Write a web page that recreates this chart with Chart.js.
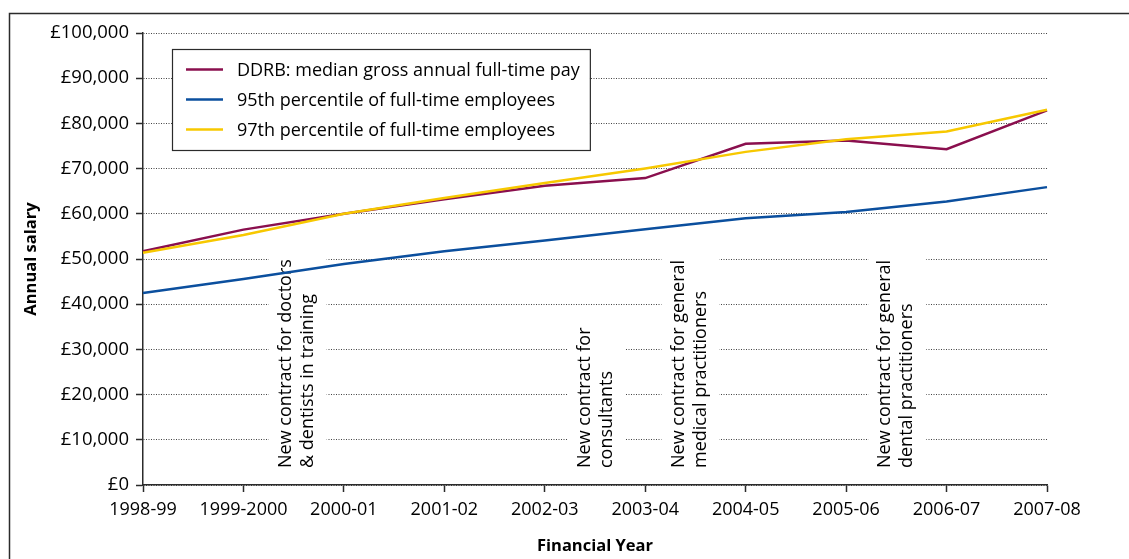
<!DOCTYPE html>
<html>
<head>
<meta charset="utf-8">
<script src="https://cdn.jsdelivr.net/npm/chart.js@4.4.1/dist/chart.umd.min.js"></script>
<style>
  html, body { margin: 0; padding: 0; background: #fff; }
  #wrap { width: 1129px; height: 559px; }
</style>
</head>
<body>
<div id="wrap"><canvas id="salaryChart" width="1129" height="559"></canvas></div>
<script>
// financial years on the x axis
const years = ["1998-99", "1999-2000", "2000-01", "2001-02", "2002-03", "2003-04", "2004-05", "2005-06", "2006-07", "2007-08"];

// annual salary, £
const ddrbMedian = [51700, 56500, 60000, 63200, 66200, 67900, 75500, 76200, 74300, 82900];
const pct95 = [42500, 45600, 48900, 51700, 54100, 56600, 59000, 60400, 62700, 65900];
const pct97 = [51400, 55300, 60000, 63500, 66800, 70000, 73700, 76500, 78200, 83000];

const seriesLabels = [
  "DDRB: median gross annual full-time pay",
  "95th percentile of full-time employees",
  "97th percentile of full-time employees",
];

// contract changes, one entry per note (lines of text)
const contractNotes = [
  ["New contract for doctors", "& dentists in training"],
  ["New contract for", "consultants"],
  ["New contract for general", "medical practitioners"],
  ["New contract for general", "dental practitioners"],
];
// where each note sits, as a category position
const notePositions = [1.54, 4.52, 5.45, 7.51];

const FONT = "'Open Sans', 'DejaVu Sans', sans-serif";
const INK = "#2b2b2b";

// white boxes with vertical text for the contract notes, under the lines
const notesPlugin = {
  id: "contractNotes",
  beforeDatasetsDraw(chart) {
    const { ctx, chartArea, scales } = chart;
    const lineH = 22;
    const baseY = chartArea.bottom - 17;
    ctx.save();
    ctx.font = "18px " + FONT;
    contractNotes.forEach((lines, i) => {
      const cx = scales.x.getPixelForValue(notePositions[i]);
      const w = Math.max(...lines.map((t) => ctx.measureText(t).width));
      const boxW = 58;
      const left = cx - boxW / 2;
      ctx.fillStyle = "#fff";
      ctx.fillRect(left, baseY - w - 9, boxW, w + 19);

      ctx.save();
      ctx.translate(left + 8, baseY);
      ctx.rotate(-Math.PI / 2);
      ctx.fillStyle = "#000";
      ctx.textAlign = "left";
      ctx.textBaseline = "top";
      lines.forEach((t, j) => ctx.fillText(t, 0, j * lineH));
      ctx.restore();
    });
    ctx.restore();
  },
};

// boxed legend in the top-left of the plot
const legendPlugin = {
  id: "boxLegend",
  afterDatasetsDraw(chart) {
    const { ctx, chartArea } = chart;
    const x0 = chartArea.left + 29;
    const y0 = chartArea.top + 16;
    ctx.save();
    ctx.font = "18px " + FONT;
    const tw = Math.max(...chart.data.datasets.map((d) => ctx.measureText(d.label).width));
    const w = 65 + tw + 10;
    const h = 101;
    ctx.fillStyle = "#fff";
    ctx.fillRect(x0, y0, w, h);
    ctx.strokeStyle = INK;
    ctx.lineWidth = 1.2;
    ctx.strokeRect(x0 + 0.5, y0 + 0.5, w, h);

    chart.data.datasets.forEach((d, i) => {
      const y = y0 + 20.5 + i * 30;
      ctx.strokeStyle = d.borderColor;
      ctx.lineWidth = 2.5;
      ctx.beginPath();
      ctx.moveTo(x0 + 14, y);
      ctx.lineTo(x0 + 51, y);
      ctx.stroke();
      ctx.fillStyle = "#000";
      ctx.textAlign = "left";
      ctx.textBaseline = "middle";
      ctx.fillText(d.label, x0 + 65, y + 1);
    });
    ctx.restore();
  },
  afterDraw(chart) {
    // outer frame (top and left edges)
    const { ctx } = chart;
    ctx.save();
    ctx.strokeStyle = INK;
    ctx.lineWidth = 1.5;
    ctx.beginPath();
    ctx.moveTo(9.5, chart.height);
    ctx.lineTo(9.5, 13.5);
    ctx.lineTo(chart.width, 13.5);
    ctx.stroke();
    ctx.restore();
  },
};

const ctx = document.getElementById("salaryChart").getContext("2d");
const salaryChart = new Chart(ctx, {
  type: "line",
  data: {
    labels: years,
    datasets: [
      { label: seriesLabels[0], data: ddrbMedian, borderColor: "#8a0f4e", order: 1 },
      { label: seriesLabels[1], data: pct95, borderColor: "#0b4f9e", order: 2 },
      { label: seriesLabels[2], data: pct97, borderColor: "#f7c800", order: 0 },
    ],
  },
  options: {
    responsive: false,
    animation: false,
    devicePixelRatio: 1,
    layout: { padding: { left: 0, top: 33, right: 82, bottom: 0 } },
    elements: {
      line: { borderWidth: 2.5, tension: 0, fill: false },
      point: { radius: 0, hoverRadius: 0 },
    },
    plugins: {
      legend: { display: false },
      tooltip: { enabled: false },
    },
    scales: {
      x: {
        offset: false,
        grid: {
          drawOnChartArea: false,
          tickLength: 7,
          tickColor: INK,
          tickWidth: 1.5,
        },
        border: { color: INK, width: 1.5 },
        ticks: {
          color: "#000",
          font: { family: FONT, size: 18 },
          padding: 7,
          maxRotation: 0,
          autoSkip: false,
        },
        title: {
          display: true,
          text: "Financial Year",
          color: "#000",
          font: { family: FONT, size: 16.5, weight: "bold" },
          padding: { top: 0, bottom: 3 },
        },
        afterFit(scale) {
          scale.height = 74;
        },
      },
      y: {
        min: 0,
        max: 100000,
        grid: {
          color: "#444",
          lineWidth: 1,
          tickLength: 7,
          tickColor: INK,
          tickWidth: 1.5,
          tickBorderDash: [],
        },
        border: { color: INK, width: 1.5, dash: [1, 1.5] },
        ticks: {
          stepSize: 10000,
          color: "#000",
          font: { family: FONT, size: 18.5 },
          padding: 7,
          callback: (v) => "£" + v.toLocaleString("en-GB"),
        },
        title: {
          display: true,
          text: "Annual salary",
          color: "#000",
          font: { family: FONT, size: 16.5, weight: "bold" },
          padding: { top: 21, bottom: 0 },
        },
        afterFit(scale) {
          scale.width = 143;
        },
      },
    },
  },
  plugins: [notesPlugin, legendPlugin],
});
</script>
</body>
</html>
